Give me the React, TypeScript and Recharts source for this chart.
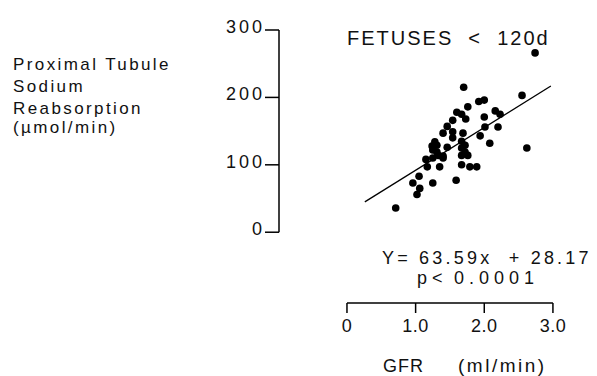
import React from 'react';
import { ScatterChart, Scatter, XAxis, YAxis, ReferenceLine } from 'recharts';

// GFR (ml/min) and proximal tubule Na reabsorption (umol/min)
const gfr = [
  1.70, 1.92, 2.00, 1.76, 1.60, 1.67, 1.73, 1.54, 1.46, 2.00,
  2.16, 2.23, 2.55, 2.74, 2.01, 2.20, 1.40, 1.54, 1.69, 1.28,
  1.54, 1.67, 1.72, 1.94, 2.08, 1.25, 1.31, 1.33, 1.40, 1.24,
  1.46, 1.67, 1.72, 1.15, 1.25, 1.40, 1.67, 1.76, 1.17, 1.35,
  1.67, 1.79, 1.89, 1.05, 0.96, 1.25, 1.59, 1.06, 1.02, 0.71,
  2.62, 1.31,
];
const reabsorption = [
  215, 194, 196, 186, 178, 175, 168, 166, 157, 171,
  180, 175, 203, 266, 156, 156, 147, 149, 147, 134,
  140, 135, 129, 143, 132, 122, 119, 114, 113, 128,
  126, 125, 119, 108, 110, 110, 114, 114, 97, 97,
  100, 97, 97, 83, 73, 73, 77, 65, 56, 36,
  125, 129,
];

// regression line endpoints as drawn
const fitX = [0.26, 2.97];
const fitY = [45, 217];

const xTicks = [0, 1, 2, 3];
const xTickLabels = ['0', '1.0', '2.0', '3.0'];
const yTicks = [0, 100, 200, 300];

const X_MIN = -0.99;
const X_MAX = 3.54;
const Y_MIN = -105;
const Y_MAX = 300;

const leftLabel = ['Proximal Tubule', 'Sodium', 'Reabsorption', '(\u00b5mol/min)'];
const leftLabelTop = [56, 78, 100, 119];

const data = gfr.map((x, i) => ({ x, y: reabsorption[i] }));

const FONT = '"Liberation Sans", Arial, Helvetica, sans-serif';

const YTick = (props: any) => {
  const { x, y, payload } = props;
  return (
    <text x={x + 2} y={y} dy={-3} textAnchor="end" dominantBaseline="central"
      fontSize={18} fontFamily={FONT} fill="#111" letterSpacing={3}>
      {payload.value}
    </text>
  );
};

const XTick = (props: any) => {
  const { x, y, payload } = props;
  const idx = xTicks.indexOf(payload.value);
  return (
    <text x={x} y={y} dy={11} textAnchor="middle" dominantBaseline="central"
      fontSize={18} fontFamily={FONT} fill="#111" letterSpacing={0.5}>
      {xTickLabels[idx]}
    </text>
  );
};

const Dot = (props: any) => {
  const { cx, cy } = props;
  return <circle cx={cx} cy={cy} r={3.8} fill="#000" />;
};

const txt: React.CSSProperties = {
  position: 'absolute',
  fontFamily: FONT,
  color: '#111',
  whiteSpace: 'pre',
};

export default function App() {
  return (
    <div style={{ position: 'relative', width: 597, height: 376, background: '#fff', overflow: 'hidden' }}>
      <style>{'body{margin:0}'}</style>
      <ScatterChart width={597} height={376}
        margin={{ top: 30, right: 7, bottom: 33, left: 219 }}>
        <XAxis type="number" dataKey="x" domain={[X_MIN, X_MAX]} ticks={xTicks}
          allowDataOverflow axisLine={false} tickSize={10} height={40}
          tickLine={{ stroke: '#000', strokeWidth: 1.5 }} tick={<XTick />} />
        <YAxis type="number" dataKey="y" domain={[Y_MIN, Y_MAX]} ticks={yTicks}
          allowDataOverflow axisLine={false} tickSize={14} width={60}
          tickLine={{ stroke: '#000', strokeWidth: 1.5 }} tick={<YTick />} />
        <ReferenceLine segment={[{ x: X_MIN, y: 0 }, { x: X_MIN, y: Y_MAX }]}
          stroke="#000" strokeWidth={1.5} ifOverflow="visible" />
        <ReferenceLine segment={[{ x: xTicks[0], y: Y_MIN }, { x: xTicks[3], y: Y_MIN }]}
          stroke="#000" strokeWidth={1.5} ifOverflow="visible" />
        <ReferenceLine segment={[{ x: fitX[0], y: fitY[0] }, { x: fitX[1], y: fitY[1] }]}
          stroke="#000" strokeWidth={1.3} ifOverflow="visible" />
        <Scatter data={data} shape={<Dot />} isAnimationActive={false} />
      </ScatterChart>

      {leftLabel.map((t, i) => (
        <div key={t} style={{ ...txt, left: 13, top: leftLabelTop[i], fontSize: 17, lineHeight: '17px', letterSpacing: 2.4 }}>
          {t}
        </div>
      ))}
      <div style={{ ...txt, left: 347, top: 28, fontSize: 20, lineHeight: '20px', letterSpacing: 2 }}>
        {'FETUSES  <  120d'}
      </div>
      <div style={{ ...txt, left: 382, top: 249, fontSize: 18, lineHeight: '18px', letterSpacing: 3.2 }}>
        {'Y= 63.59x  + 28.17'}
      </div>
      <div style={{ ...txt, left: 417, top: 269, fontSize: 18, lineHeight: '18px', letterSpacing: 5 }}>
        {'p<\u200a0.0001'}
      </div>
      <div style={{ ...txt, left: 383, top: 357, fontSize: 18, lineHeight: '18px', letterSpacing: 1 }}>
        GFR<span style={{ marginLeft: 34, fontSize: 19, letterSpacing: 2.5 }}>(ml/min)</span>
      </div>
    </div>
  );
}
